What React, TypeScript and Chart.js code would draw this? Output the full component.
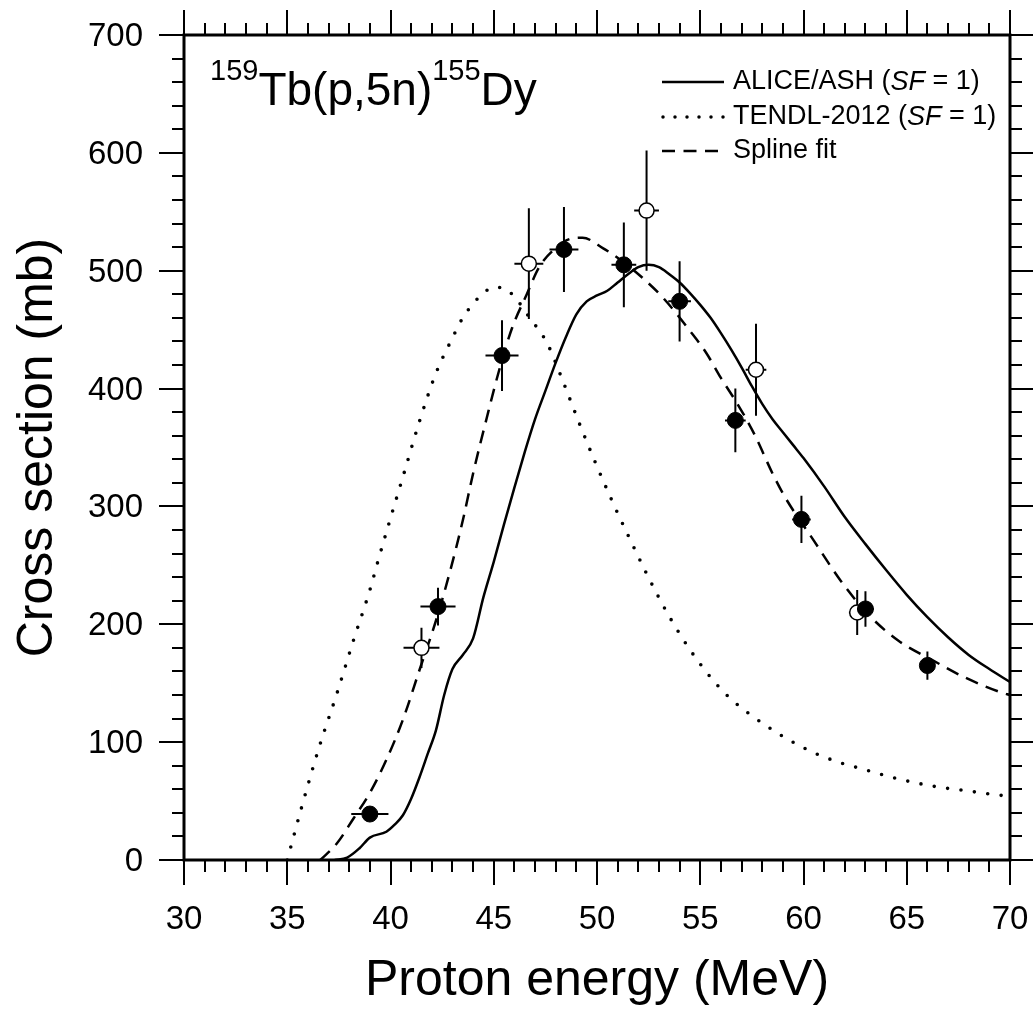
import React, { useEffect, useRef } from 'react';
import { Chart, registerables } from 'chart.js';

Chart.register(...registerables);

const FONT = "'Liberation Sans', Arial, Helvetica, sans-serif";
const W = 1033;
const H = 1010;

// Tick labels
const X_TICKS = [30, 35, 40, 45, 50, 55, 60, 65, 70];
const Y_TICKS = [0, 100, 200, 300, 400, 500, 600, 700];

// Experimental data: filled circles
const FILLED_E = [39.0, 42.3, 45.4, 48.4, 51.3, 54.0, 56.7, 59.9, 63.0, 66.0];
const FILLED_XS = [39, 215, 428, 518, 505, 474, 373, 289, 213, 165];
const FILLED_DE = [0.9, 0.85, 0.8, 0.7, 0.6, 0.55, 0.5, 0.45, 0.4, 0.35];
const FILLED_DXS = [5, 16, 30, 36, 36, 34, 27, 20, 15, 12];

// Experimental data: open circles
const OPEN_E = [41.5, 46.7, 52.4, 57.7, 62.6];
const OPEN_XS = [180, 506, 551, 416, 210];
const OPEN_DE = [0.87, 0.7, 0.6, 0.5, 0.4];
const OPEN_DXS = [17, 47, 51, 39, 19];

// ALICE/ASH (SF = 1)
const ALICE_E = [37.3, 37.9, 38.5, 39.0, 39.8, 40.2, 40.6, 41.0, 41.4, 41.8, 42.2, 42.6, 43.0, 43.5, 44.0, 44.5, 45.0, 45.5, 46.0, 46.5, 47.0, 47.5, 48.0, 48.5, 49.0, 49.5, 50.0, 50.5, 51.0, 51.5, 52.0, 52.5, 53.0, 53.5, 54.0, 54.5, 55.0, 55.5, 56.0, 56.5, 57.0, 57.5, 58.0, 58.5, 59.0, 59.5, 60.0, 61.0, 62.0, 63.0, 64.0, 65.0, 66.0, 67.0, 68.0, 69.0, 70.0];
const ALICE_XS = [0, 2, 10, 19, 24, 30, 38, 52, 70, 90, 110, 140, 162, 174, 188, 223, 253, 285, 316, 346, 374, 398, 422, 444, 463, 474, 479, 483, 490, 497, 503, 505, 503, 497, 490, 481, 471, 460, 447, 433, 418, 402, 387, 374, 363, 352, 341, 317, 291, 268, 246, 225, 206, 189, 174, 162, 151];

// TENDL-2012 (SF = 1)
const TENDL_E = [35.0, 35.7, 36.55, 37.4, 38.2, 39.0, 39.4, 40.0, 40.6, 41.4, 42.2, 43.0, 43.5, 44.0, 44.5, 45.0, 45.5, 46.0, 46.7, 47.6, 48.4, 49.2, 50.0, 50.8, 51.6, 52.4, 53.2, 54.0, 54.8, 55.6, 56.4, 57.3, 58.1, 58.9, 59.7, 60.5, 61.7, 62.9, 64.1, 65.3, 66.5, 67.8, 69.0, 70.0];
const TENDL_XS = [0, 45, 96, 141, 186, 229, 254, 290, 325, 372, 413, 443, 460, 472, 481, 486, 485, 478, 461, 438, 404, 368, 334, 302, 272, 243, 216, 192, 171, 153, 138, 125, 115, 106, 98, 91, 83, 77, 71, 66, 62, 59, 56, 54];

// Spline fit
const SPLINE_E = [36.6, 37.4, 38.2, 39.0, 39.8, 40.6, 41.4, 42.2, 42.9, 43.5, 44.0, 44.66, 45.3, 45.9, 46.6, 47.2, 48.05, 48.7, 49.3, 50.3, 51.3, 52.2, 53.2, 54.5, 55.3, 56.0, 56.8, 57.6, 58.5, 59.1, 60.5, 61.8, 63.1, 64.6, 66.2, 67.8, 69.6, 70.0];
const SPLINE_XS = [0, 14, 35, 57, 85, 119, 161, 203, 246, 288, 328, 375, 418, 452, 480, 503, 520, 527, 528, 519, 507, 494, 477, 449, 430, 409, 387, 362, 328, 308, 271, 237, 209, 186, 170, 155, 142, 140];

const LEGEND_LABELS = ['ALICE/ASH', 'TENDL-2012', 'Spline fit'];

const toPts = (xs: number[], ys: number[]) => xs.map((x, i) => ({ x, y: ys[i] }));

const decorPlugin = {
  id: 'decor',
  beforeDatasetDraw(chart: any, args: any) {
    const ds = chart.data.datasets[args.index];
    if (!ds.errX) return;
    const { ctx } = chart;
    const x = chart.scales.x;
    const y = chart.scales.y;
    ctx.save();
    ctx.strokeStyle = '#000';
    ctx.lineWidth = 2;
    ds.data.forEach((p: any, i: number) => {
      const px = x.getPixelForValue(p.x);
      const py = y.getPixelForValue(p.y);
      ctx.beginPath();
      ctx.moveTo(x.getPixelForValue(p.x - ds.errX[i]), py);
      ctx.lineTo(x.getPixelForValue(p.x + ds.errX[i]), py);
      ctx.moveTo(px, y.getPixelForValue(p.y - ds.errY[i]));
      ctx.lineTo(px, y.getPixelForValue(p.y + ds.errY[i]));
      ctx.stroke();
    });
    ctx.restore();
  },
  afterDraw(chart: any) {
    const { ctx, chartArea } = chart;
    const { left, right, top, bottom } = chartArea;
    const x = chart.scales.x;
    const y = chart.scales.y;
    ctx.save();
    ctx.strokeStyle = '#000';
    ctx.fillStyle = '#000';

    // frame
    ctx.lineWidth = 3;
    ctx.strokeRect(left, top, right - left, bottom - top);

    // ticks
    ctx.lineWidth = 2;
    ctx.beginPath();
    for (let v = 30; v <= 70; v += 1) {
      const px = Math.round(x.getPixelForValue(v));
      const len = v % 5 === 0 ? 25 : 12;
      ctx.moveTo(px, bottom);
      ctx.lineTo(px, bottom + len);
      ctx.moveTo(px, top);
      ctx.lineTo(px, top - len);
    }
    for (let v = 0; v <= 700; v += 20) {
      const py = Math.round(y.getPixelForValue(v));
      const len = v % 100 === 0 ? 25 : 12;
      ctx.moveTo(left, py);
      ctx.lineTo(left - len, py);
      ctx.moveTo(right, py);
      ctx.lineTo(right + len, py);
    }
    ctx.stroke();

    // tick labels
    ctx.font = `33px ${FONT}`;
    ctx.textAlign = 'center';
    ctx.textBaseline = 'alphabetic';
    X_TICKS.forEach((v) => {
      ctx.fillText(String(v), x.getPixelForValue(v), 929);
    });
    ctx.textAlign = 'right';
    Y_TICKS.forEach((v) => {
      ctx.fillText(String(v), 143, y.getPixelForValue(v) + 11);
    });

    // axis titles
    ctx.font = `50px ${FONT}`;
    ctx.textAlign = 'center';
    ctx.fillText('Proton energy (MeV)', (left + right) / 2, 995);
    ctx.save();
    ctx.translate(52, (top + bottom) / 2);
    ctx.rotate(-Math.PI / 2);
    ctx.fillText('Cross section (mb)', 0, 0);
    ctx.restore();

    // reaction title with superscripts
    ctx.textAlign = 'left';
    let cx = 210;
    const parts: [string, boolean][] = [['159', true], ['Tb(p,5n)', false], ['155', true], ['Dy', false]];
    parts.forEach(([t, sup]) => {
      ctx.font = sup ? `29px ${FONT}` : `46px ${FONT}`;
      ctx.fillText(t, cx, sup ? 80 : 105);
      cx += ctx.measureText(t).width;
    });

    // legend
    const rows = [82, 117, 151];
    const lx0 = 662;
    const lx1 = 724;
    const tx = 733;
    ctx.lineWidth = 2.5;
    ctx.setLineDash([]);
    ctx.beginPath();
    ctx.moveTo(lx0, rows[0]);
    ctx.lineTo(lx1, rows[0]);
    ctx.stroke();
    ctx.lineWidth = 3.5;
    ctx.lineCap = 'round';
    ctx.setLineDash([0, 12]);
    ctx.beginPath();
    ctx.moveTo(lx0 + 1, rows[1]);
    ctx.lineTo(lx1 + 1, rows[1]);
    ctx.stroke();
    ctx.lineCap = 'butt';
    ctx.lineWidth = 2.5;
    ctx.setLineDash([13, 8.5]);
    ctx.beginPath();
    ctx.moveTo(lx0, rows[2]);
    ctx.lineTo(lx1, rows[2]);
    ctx.stroke();
    ctx.setLineDash([]);

    ctx.textBaseline = 'middle';
    const drawLabel = (name: string, yy: number, withSF: boolean) => {
      let px = tx;
      ctx.font = `27px ${FONT}`;
      const first = withSF ? `${name} (` : name;
      ctx.fillText(first, px, yy);
      px += ctx.measureText(first).width;
      if (withSF) {
        ctx.font = `italic 27px ${FONT}`;
        ctx.fillText('SF', px, yy);
        px += ctx.measureText('SF').width;
        ctx.font = `27px ${FONT}`;
        ctx.fillText(' = 1)', px, yy);
      }
    };
    drawLabel(LEGEND_LABELS[0], rows[0], true);
    drawLabel(LEGEND_LABELS[1], rows[1], true);
    drawLabel(LEGEND_LABELS[2], rows[2], false);

    ctx.restore();
  },
};

export default function App() {
  const canvasRef = useRef<HTMLCanvasElement | null>(null);

  useEffect(() => {
    const canvas = canvasRef.current;
    if (!canvas) return;
    const chart = new Chart(canvas, {
      type: 'scatter',
      data: {
        datasets: [
          {
            label: 'Filled',
            data: toPts(FILLED_E, FILLED_XS),
            errX: FILLED_DE,
            errY: FILLED_DXS,
            pointRadius: 8,
            pointBackgroundColor: '#000',
            pointBorderColor: '#000',
            pointBorderWidth: 1,
            showLine: false,
          } as any,
          {
            label: 'Open',
            data: toPts(OPEN_E, OPEN_XS),
            errX: OPEN_DE,
            errY: OPEN_DXS,
            pointRadius: 7.5,
            pointBackgroundColor: '#fff',
            pointBorderColor: '#000',
            pointBorderWidth: 1.5,
            showLine: false,
          } as any,
          {
            label: 'ALICE/ASH',
            data: toPts(ALICE_E, ALICE_XS),
            showLine: true,
            pointRadius: 0,
            borderColor: '#000',
            borderWidth: 2.5,
            cubicInterpolationMode: 'monotone',
            fill: false,
          },
          {
            label: 'TENDL-2012',
            data: toPts(TENDL_E, TENDL_XS),
            showLine: true,
            pointRadius: 0,
            borderColor: '#000',
            borderWidth: 3.6,
            borderDash: [0, 13.5],
            borderCapStyle: 'round',
            cubicInterpolationMode: 'monotone',
            fill: false,
          },
          {
            label: 'Spline fit',
            data: toPts(SPLINE_E, SPLINE_XS),
            showLine: true,
            pointRadius: 0,
            borderColor: '#000',
            borderWidth: 2.5,
            borderDash: [13, 8.5],
            cubicInterpolationMode: 'monotone',
            fill: false,
          },
        ],
      },
      options: {
        animation: false,
        responsive: false,
        devicePixelRatio: 1,
        events: [],
        layout: { padding: { left: 0, top: 35, right: W - 1010, bottom: 0 } },
        plugins: {
          legend: { display: false },
          tooltip: { enabled: false },
          title: { display: false },
        },
        scales: {
          x: {
            type: 'linear',
            min: 30,
            max: 70,
            ticks: { display: false, stepSize: 5 },
            grid: { display: false },
            border: { display: false },
            afterFit: (s: any) => {
              s.height = H - 860;
            },
          },
          y: {
            type: 'linear',
            min: 0,
            max: 700,
            ticks: { display: false, stepSize: 100 },
            grid: { display: false },
            border: { display: false },
            afterFit: (s: any) => {
              s.width = 184;
            },
          },
        },
      } as any,
      plugins: [decorPlugin],
    });
    return () => chart.destroy();
  }, []);

  return (
    <div style={{ position: 'fixed', left: 0, top: 0, width: W, height: H, background: '#fff' }}>
      <canvas ref={canvasRef} width={W} height={H} style={{ display: 'block', width: W, height: H }} />
    </div>
  );
}
